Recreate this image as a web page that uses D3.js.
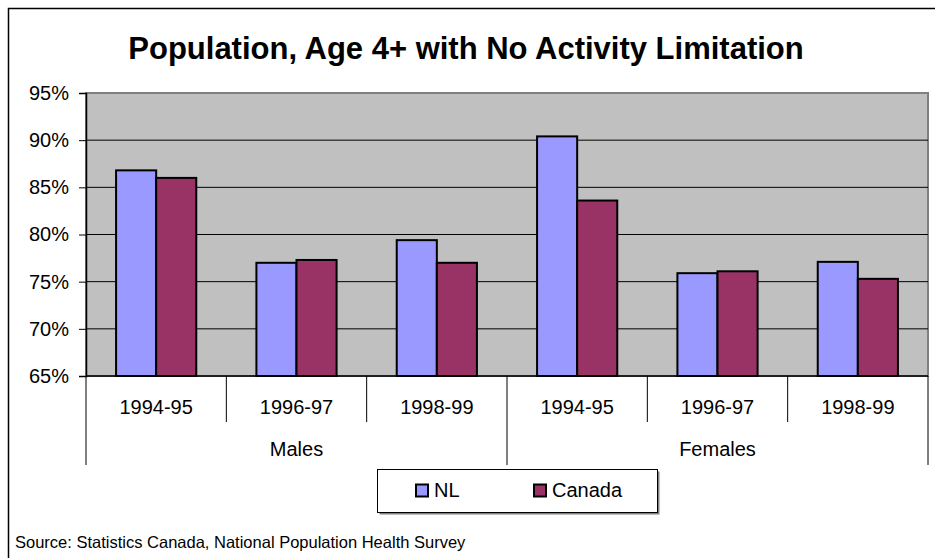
<!DOCTYPE html>
<html>
<head>
<meta charset="utf-8">
<script src="https://cdn.jsdelivr.net/npm/d3@7"></script>
<style>
  html, body { margin: 0; padding: 0; background: #fff; }
  svg { display: block; font-family: Arial, "Liberation Sans", sans-serif; }
</style>
</head>
<body>
<svg id="chart" width="935" height="558"></svg>
<script>
const title = "Population, Age 4+ with No Activity Limitation";
const sexes = ["Males", "Females"];
const periods = ["1994-95", "1996-97", "1998-99"];
const seriesNames = ["NL", "Canada"];
const nlValues = [86.8, 77.0, 79.4, 90.4, 75.9, 77.1];
const canadaValues = [86.0, 77.3, 77.0, 83.6, 76.1, 75.3];
const yTicks = [65, 70, 75, 80, 85, 90, 95];
const colors = ["#9999FF", "#993366"];
const source = "Source: Statistics Canada, National Population Health Survey";

const categories = [];
sexes.forEach(s => periods.forEach(p => categories.push({ key: s + "|" + p, sex: s, period: p })));
const rows = categories.map((c, i) => ({ ...c, NL: nlValues[i], Canada: canadaValues[i] }));

const svg = d3.select("#chart");
const plot = { left: 86, right: 928, top: 93, bottom: 376 };

// outer frame (cut off at right/bottom as in reference)
svg.append("rect").attr("x", 8.5).attr("y", 8.5).attr("width", 1000).attr("height", 1000)
  .attr("fill", "#fff").attr("stroke", "#000").attr("stroke-width", 1.5);

// title
svg.append("text").attr("x", 466).attr("y", 59).attr("text-anchor", "middle")
  .attr("font-weight", "bold").attr("font-size", 31).text(title);

const x0 = d3.scaleBand().domain(categories.map(c => c.key)).range([plot.left, plot.right]).paddingInner(0).paddingOuter(0);
const x1 = d3.scaleBand().domain(seriesNames).range([0, x0.bandwidth()]).paddingInner(0).paddingOuter(0.75);
const y = d3.scaleLinear().domain([65, 95]).range([plot.bottom, plot.top]);

// plot background
svg.append("rect").attr("x", plot.left).attr("y", plot.top)
  .attr("width", plot.right - plot.left).attr("height", plot.bottom - plot.top)
  .attr("fill", "#C0C0C0").attr("stroke", "#808080").attr("stroke-width", 2);

// gridlines
svg.append("g").selectAll("line").data(yTicks.filter(t => t > 65 && t < 95)).join("line")
  .attr("x1", plot.left).attr("x2", plot.right)
  .attr("y1", d => y(d)).attr("y2", d => y(d))
  .attr("stroke", "#000").attr("stroke-width", 1);

// y axis
const yAxis = d3.axisLeft(y).tickValues(yTicks).tickFormat(d => d + "%").tickSize(7).tickPadding(10);
const gy = svg.append("g").attr("transform", `translate(${plot.left},0)`).call(yAxis);
gy.select(".domain").attr("stroke", "#000").attr("stroke-width", 1.5);
gy.selectAll(".tick line").attr("stroke", "#000");
gy.selectAll(".tick text").attr("font-size", 20).attr("font-family", "Arial, 'Liberation Sans', sans-serif").attr("fill", "#000");

// bars
const groups = svg.append("g").selectAll("g").data(rows).join("g")
  .attr("transform", d => `translate(${x0(d.key)},0)`);
groups.selectAll("rect").data(d => seriesNames.map((s, i) => ({ s, v: d[s], i }))).join("rect")
  .attr("x", d => x1(d.s)).attr("width", x1.bandwidth())
  .attr("y", d => y(d.v)).attr("height", d => y(65) - y(d.v))
  .attr("fill", d => colors[d.i]).attr("stroke", "#000").attr("stroke-width", 2);

// x axis line
svg.append("line").attr("x1", plot.left).attr("x2", plot.right).attr("y1", plot.bottom).attr("y2", plot.bottom)
  .attr("stroke", "#000").attr("stroke-width", 1.5);

// level-1 separators
const inner = categories.slice(1).map(c => x0(c.key)).filter((v, i) => (i + 1) % periods.length !== 0);
svg.append("g").selectAll("line").data(inner).join("line")
  .attr("x1", d => d).attr("x2", d => d).attr("y1", plot.bottom).attr("y2", 422)
  .attr("stroke", "#000").attr("stroke-width", 1);
// level-2 separators
const outer = [plot.left, x0(categories[periods.length].key), plot.right];
svg.append("g").selectAll("line").data(outer).join("line")
  .attr("x1", d => d).attr("x2", d => d).attr("y1", plot.bottom).attr("y2", 465)
  .attr("stroke", "#000").attr("stroke-width", 1);

// period labels
svg.append("g").selectAll("text").data(categories).join("text")
  .attr("x", d => x0(d.key) + x0.bandwidth() / 2).attr("y", 414)
  .attr("text-anchor", "middle").attr("font-size", 20).text(d => d.period);
// sex labels
svg.append("g").selectAll("text").data(sexes).join("text")
  .attr("x", (d, i) => x0(categories[i * periods.length].key) + x0.bandwidth() * periods.length / 2)
  .attr("y", 456).attr("text-anchor", "middle").attr("font-size", 20).text(d => d);

// legend
const lg = svg.append("g");
lg.append("rect").attr("x", 379.5).attr("y", 471.5).attr("width", 280).attr("height", 43).attr("fill", "#808080");
lg.append("rect").attr("x", 377.5).attr("y", 469.5).attr("width", 280).attr("height", 43)
  .attr("fill", "#fff").attr("stroke", "#000").attr("stroke-width", 1);
const legendX = [416, 534];
seriesNames.forEach((s, i) => {
  lg.append("rect").attr("x", legendX[i]).attr("y", 484.5).attr("width", 12).attr("height", 12)
    .attr("fill", colors[i]).attr("stroke", "#000").attr("stroke-width", 2);
  lg.append("text").attr("x", legendX[i] + 18).attr("y", 497).attr("font-size", 20).text(s);
});

// source
svg.append("text").attr("x", 15).attr("y", 548).attr("font-size", 16.5).text(source);
</script>
</body>
</html>
